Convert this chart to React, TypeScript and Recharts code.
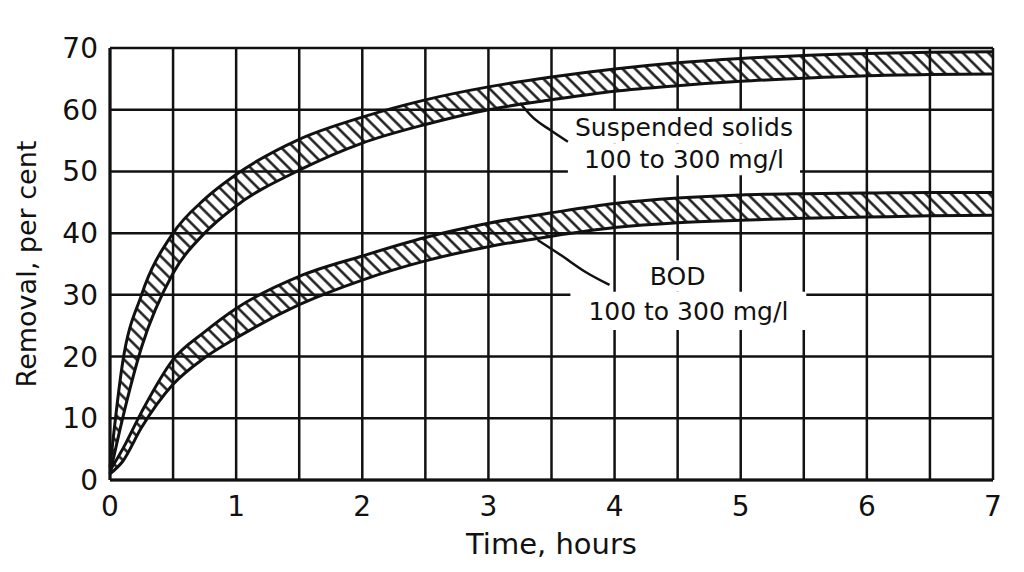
import {
  Area,
  CartesianGrid,
  ComposedChart,
  Line,
  ReferenceArea,
  XAxis,
  YAxis,
} from 'recharts';

// time, hours
const hours = [0, 0.1, 0.25, 0.5, 0.75, 1, 1.5, 2, 2.5, 3, 3.5, 4, 4.5, 5, 5.5, 6, 6.5, 7];
// removal, per cent (band edges)
const ssHigh = [2, 19, 30, 40, 45.5, 49.5, 55.2, 58.8, 61.6, 63.7, 65.3, 66.6, 67.6, 68.3, 68.8, 69.1, 69.3, 69.4];
const ssLow = [1, 10, 21.5, 33.5, 40, 44.4, 50.2, 54.6, 57.6, 60, 61.6, 63, 63.9, 64.6, 65.1, 65.5, 65.7, 65.8];
const bodHigh = [1.5, 5, 11, 19.5, 24, 27.8, 33, 36.3, 39.3, 41.6, 43.3, 44.8, 45.7, 46.2, 46.4, 46.5, 46.6, 46.6];
const bodLow = [1, 3, 8.5, 15.5, 19.8, 23, 28.4, 32.4, 35.5, 37.8, 39.5, 40.9, 41.7, 42.1, 42.4, 42.6, 42.8, 42.9];

const gridHours = [0, 0.5, 1, 1.5, 2, 2.5, 3, 3.5, 4, 4.5, 5, 5.5, 6, 6.5, 7];
const percentTicks = [0, 10, 20, 30, 40, 50, 60, 70];

// leader lines from the notes to the bands
const ssLeader = [
  { t: 3.25, v: 61.1 },
  { t: 3.35, v: 58.8 },
  { t: 3.49, v: 56.7 },
  { t: 3.63, v: 54.8 },
];
const bodLeader = [
  { t: 3.39, v: 38.9 },
  { t: 3.57, v: 36.5 },
  { t: 3.77, v: 33.7 },
  { t: 3.96, v: 31.6 },
];

const rows = hours.map((t, i) => ({
  t,
  ssLow: ssLow[i],
  ssHigh: ssHigh[i],
  bodLow: bodLow[i],
  bodHigh: bodHigh[i],
}));

const INK = '#111';
const FONT = '"DejaVu Sans", sans-serif';

const note = (text: string) => ({
  value: text,
  position: 'center' as const,
  fill: INK,
  fontSize: 25,
  fontFamily: FONT,
});

export default function App() {
  return (
    <div style={{ position: 'absolute', left: 0, top: 0, width: 1024, height: 572, background: '#fff' }}>
      <ComposedChart
        width={1024}
        height={572}
        data={rows}
        margin={{ top: 48, right: 31, bottom: 0, left: 0 }}
      >
        <defs>
          <pattern id="hatch" width="9" height="9" patternUnits="userSpaceOnUse" patternTransform="rotate(45)">
            <line x1="0" y1="4.5" x2="9" y2="4.5" stroke={INK} strokeWidth="2.4" />
          </pattern>
        </defs>
        <CartesianGrid stroke={INK} strokeWidth={2.5} />
        <XAxis
          dataKey="t"
          type="number"
          domain={[0, 7]}
          ticks={gridHours}
          tickFormatter={(v: number) => (Number.isInteger(v) ? String(v) : '')}
          height={92}
          tickLine={false}
          tickSize={0}
          tickMargin={16}
          axisLine={{ stroke: INK, strokeWidth: 3 }}
          tick={{ fill: INK, fontSize: 28, fontFamily: FONT }}
          interval={0}
          label={{ value: 'Time, hours', position: 'insideBottom', offset: 18, fill: INK, fontSize: 29, fontFamily: FONT }}
        />
        <YAxis
          type="number"
          domain={[0, 70]}
          ticks={percentTicks}
          width={110}
          tickLine={false}
          tickSize={0}
          tickMargin={12}
          axisLine={{ stroke: INK, strokeWidth: 3 }}
          tick={{ fill: INK, fontSize: 28, fontFamily: FONT }}
          interval={0}
          label={{
            value: 'Removal, per cent',
            angle: -90,
            position: 'insideLeft',
            offset: 26,
            fill: INK,
            fontSize: 27,
            fontFamily: FONT,
            style: { textAnchor: 'middle' },
          }}
        />
        <ReferenceArea x1={3.63} x2={5.47} y1={54.5} y2={59.8} fill="#fff" fillOpacity={1} stroke="none" label={note('Suspended solids')} />
        <ReferenceArea x1={3.63} x2={5.47} y1={49.4} y2={54.5} fill="#fff" fillOpacity={1} stroke="none" label={note('100 to 300 mg/l')} />
        <ReferenceArea x1={4.2} x2={4.8} y1={30.5} y2={35.6} fill="#fff" fillOpacity={1} stroke="none" label={note('BOD')} />
        <ReferenceArea x1={3.65} x2={5.52} y1={24.3} y2={30.5} fill="#fff" fillOpacity={1} stroke="none" label={note('100 to 300 mg/l')} />
        <Area
          type="monotone"
          dataKey={(d: { ssLow: number; ssHigh: number }) => [d.ssLow, d.ssHigh]}
          stroke={INK}
          strokeWidth={3}
          fill="url(#hatch)"
          fillOpacity={1}
          dot={false}
          activeDot={false}
          isAnimationActive={false}
        />
        <Area
          type="monotone"
          dataKey={(d: { bodLow: number; bodHigh: number }) => [d.bodLow, d.bodHigh]}
          stroke={INK}
          strokeWidth={3}
          fill="url(#hatch)"
          fillOpacity={1}
          dot={false}
          activeDot={false}
          isAnimationActive={false}
        />
        <Line data={ssLeader} dataKey="v" type="monotone" stroke={INK} strokeWidth={2.5} dot={false} activeDot={false} isAnimationActive={false} />
        <Line data={bodLeader} dataKey="v" type="monotone" stroke={INK} strokeWidth={2.5} dot={false} activeDot={false} isAnimationActive={false} />
      </ComposedChart>
    </div>
  );
}
